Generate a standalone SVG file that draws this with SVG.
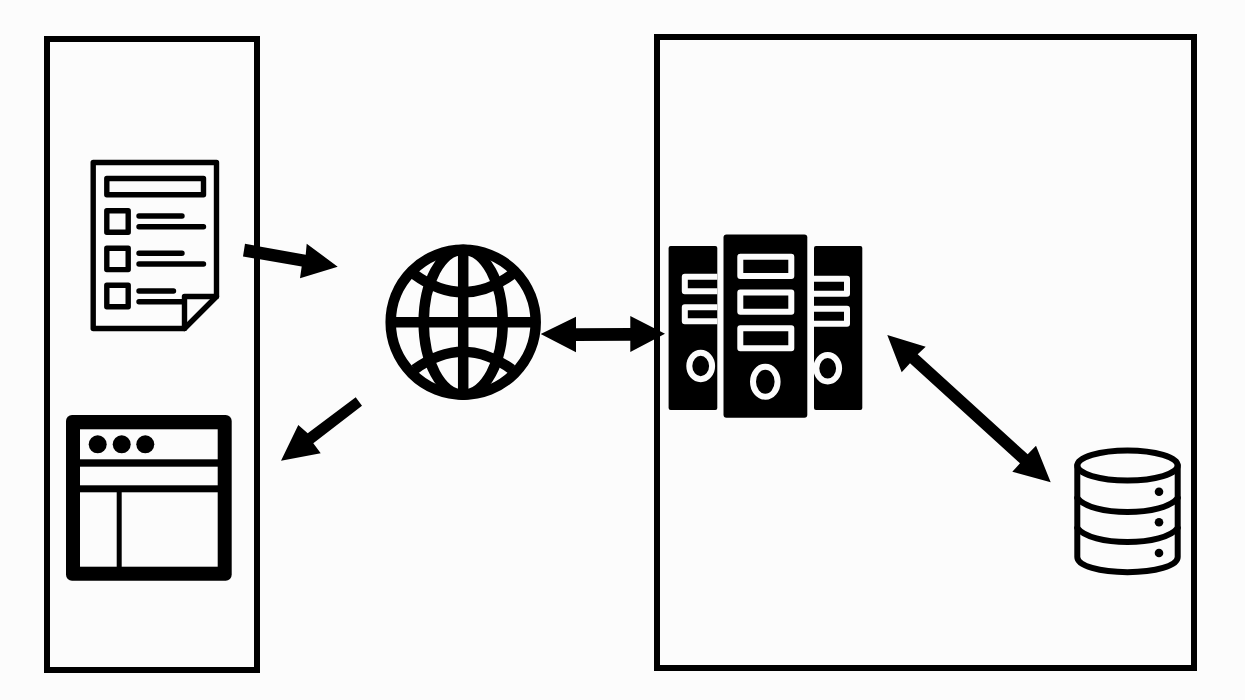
<svg xmlns="http://www.w3.org/2000/svg" width="1245" height="700" viewBox="0 0 1245 700">
<style>
.frame{fill:none;stroke:#000;stroke-width:6}
.ink{fill:none;stroke:#000;stroke-linejoin:round;stroke-linecap:round}
.doc{stroke-width:5.4}
.db{stroke-width:6}
.globe{stroke-width:10.5;stroke-linecap:butt}
.tower{fill:#000}
.cut{fill:none;stroke:#fcfcfc;stroke-width:6;stroke-linejoin:round}
.hole{fill:#fcfcfc}
.solid{fill:#000}
</style>
<rect width="1245" height="700" fill="#fcfcfc"/>
<g id="client-frame"><rect class="frame" x="47" y="39" width="210" height="631"/></g>
<g id="server-frame"><rect class="frame" x="657" y="37" width="537" height="631"/></g>
<g id="form-document" class="ink doc">
<path d="M93.2 162.5H216.5V296.5L184.5 328.5H93.2Z"/>
<path d="M184.5 328.5V296.5H216.5"/>
<rect x="106.8" y="178.5" width="96.7" height="16.3"/>
<rect x="106.8" y="210.8" width="21.4" height="21.4"/>
<rect x="106.8" y="248.2" width="21.4" height="21.4"/>
<rect x="106.8" y="285.2" width="21.4" height="21.6"/>
<path d="M139 216H182M139 226.7H203.5M139 253.3H182M139 264H203.5M139 291H173.5M139 301.7H184"/>
</g>
<g id="browser-window">
<rect class="solid" x="66" y="415" width="165.7" height="165.7" rx="6"/>
<rect class="hole" x="80" y="429.3" width="137.7" height="30"/>
<rect class="hole" x="80" y="466.7" width="137.7" height="18.6"/>
<rect class="hole" x="80" y="492.3" width="36.7" height="74.4"/>
<rect class="hole" x="121.7" y="492.3" width="96" height="74.4"/>
<circle class="solid" cx="97.7" cy="444.3" r="9"/>
<circle class="solid" cx="121.7" cy="444.3" r="9"/>
<circle class="solid" cx="145.3" cy="444.3" r="9"/>
</g>
<g id="globe" class="ink globe">
<circle cx="463.2" cy="322.2" r="72.5"/>
<ellipse cx="463.2" cy="322.2" rx="39.5" ry="72.5"/>
<path d="M463.2 249.4V395M390.4 322.2H536"/>
<path d="M414.5 274.5Q463.2 310 511.9 274.5"/>
<path d="M414.5 369.5Q463.2 334 511.9 369.5"/>
</g>
<g id="server-rack">
<rect class="tower" x="668.6" y="246" width="48.7" height="164" rx="2"/>
<rect class="tower" x="814" y="246" width="48.3" height="164" rx="2"/>
<rect class="tower" x="723.5" y="234.6" width="83.8" height="183.1" rx="3"/>
<path class="cut" d="M717.3 276.8H684.8V291.2H717.3M717.3 307.3H684.8V321.3H717.3"/>
<path class="cut" d="M814 278.7H847V293.7H814M814 308.7H847V323.7H814"/>
<rect class="cut" x="740.3" y="256.7" width="51" height="19.3"/>
<rect class="cut" x="740.3" y="292.5" width="51" height="19.3"/>
<rect class="cut" x="740.3" y="328.3" width="51" height="20"/>
<ellipse class="cut" cx="765.3" cy="381.7" rx="12.3" ry="15"/>
<ellipse class="cut" cx="700.7" cy="366" rx="11.4" ry="13.2"/>
<ellipse class="cut" cx="827.7" cy="368.3" rx="11.4" ry="13.2"/>
</g>
<g id="database">
<g class="ink db">
<ellipse cx="1127.5" cy="465.4" rx="50.2" ry="15"/>
<path d="M1077.3 465.4V557C1077.3 566 1100 572.2 1127.5 572.2S1177.7 566 1177.7 557V465.4"/>
<path d="M1077.3 498C1084 507 1105 512 1127.5 512S1171 507 1177.7 498"/>
<path d="M1077.3 528C1084 537 1105 542 1127.5 542S1171 537 1177.7 528"/>
</g>
<circle class="solid" cx="1159" cy="491.7" r="4.3"/>
<circle class="solid" cx="1159" cy="522.3" r="4.3"/>
<circle class="solid" cx="1159" cy="553" r="4.3"/>
</g>
<g id="connectors" class="solid">
<polygon points="245,243.8 243,256.4 301.7,266.6 300,278.3 337.7,266.7 306.7,243.7 305.7,254.8"/>
<polygon points="355.7,397.3 362,405.7 313.3,443.3 320.7,453.3 281,460.7 298.3,425 307.7,433.3"/>
<polygon points="540.7,334 576,316.7 576,328.3 630.3,328 630.3,316 665,333.7 630.3,352 630.3,340.7 576,341 576,352.3"/>
<polygon points="887.3,335 925.7,346.7 917.7,354.3 1027.7,454.3 1036,445.7 1050.7,482.3 1012.3,471.7 1020,463.3 910,363.3 901.7,372.3"/>
</g>
</svg>
